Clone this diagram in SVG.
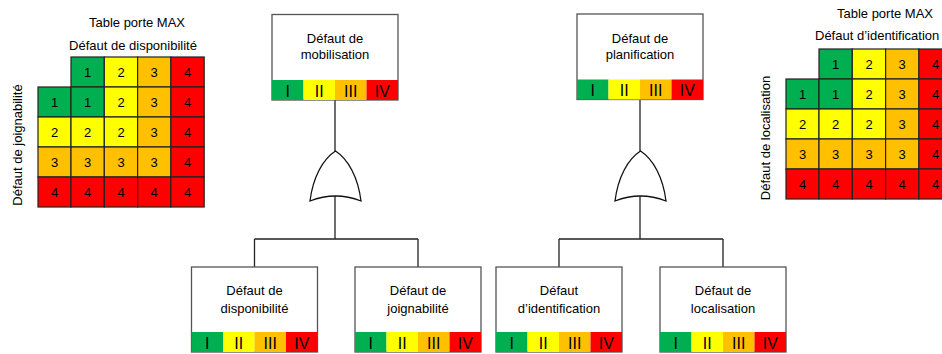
<svg xmlns="http://www.w3.org/2000/svg" width="942" height="354" viewBox="0 0 942 354">
<style>
text{font-family:"Liberation Sans",Arial,sans-serif;fill:#000}
.t{font-size:13px;text-anchor:middle}
.n{font-size:13px;text-anchor:middle}
.b{font-size:16px;text-anchor:middle}
.g{fill:#00B050}.y{fill:#FFFF00}.o{fill:#FFC000}.r{fill:#FF0000}
.cell rect{stroke:#222;stroke-width:1.2}
.box{fill:#fff;stroke:#555;stroke-width:1.3}
.band rect{stroke:#333;stroke-width:1}
.con{fill:none;stroke:#222;stroke-width:1.3}
.gate{fill:#fff;stroke:#111;stroke-width:1.3}
</style>
<defs>
<g id="band">
<rect class="g" x="0" y="0" width="31.5" height="20"/>
<rect class="y" x="31.5" y="0" width="31.5" height="20"/>
<rect class="o" x="63" y="0" width="31.5" height="20"/>
<rect class="r" x="94.5" y="0" width="31.5" height="20"/>
<text class="b" x="15.75" y="16.5">I</text>
<text class="b" x="47.25" y="16.5">II</text>
<text class="b" x="78.75" y="16.5">III</text>
<text class="b" x="110.25" y="16.5">IV</text>
</g>
<g id="tbl" class="cell">
<rect class="g" x="33" y="0" width="33.3" height="30"/><text class="n" x="49.6" y="20">1</text>
<rect class="y" x="66.3" y="0" width="33.3" height="30"/><text class="n" x="83" y="20">2</text>
<rect class="o" x="99.6" y="0" width="33.3" height="30"/><text class="n" x="116.2" y="20">3</text>
<rect class="r" x="132.9" y="0" width="33.3" height="30"/><text class="n" x="149.5" y="20">4</text>

<rect class="g" x="0" y="30" width="33" height="30"/><text class="n" x="16.5" y="50">1</text>
<rect class="g" x="33" y="30" width="33.3" height="30"/><text class="n" x="49.6" y="50">1</text>
<rect class="y" x="66.3" y="30" width="33.3" height="30"/><text class="n" x="83" y="50">2</text>
<rect class="o" x="99.6" y="30" width="33.3" height="30"/><text class="n" x="116.2" y="50">3</text>
<rect class="r" x="132.9" y="30" width="33.3" height="30"/><text class="n" x="149.5" y="50">4</text>

<rect class="y" x="0" y="60" width="33" height="30"/><text class="n" x="16.5" y="80">2</text>
<rect class="y" x="33" y="60" width="33.3" height="30"/><text class="n" x="49.6" y="80">2</text>
<rect class="y" x="66.3" y="60" width="33.3" height="30"/><text class="n" x="83" y="80">2</text>
<rect class="o" x="99.6" y="60" width="33.3" height="30"/><text class="n" x="116.2" y="80">3</text>
<rect class="r" x="132.9" y="60" width="33.3" height="30"/><text class="n" x="149.5" y="80">4</text>

<rect class="o" x="0" y="90" width="33" height="30"/><text class="n" x="16.5" y="110">3</text>
<rect class="o" x="33" y="90" width="33.3" height="30"/><text class="n" x="49.6" y="110">3</text>
<rect class="o" x="66.3" y="90" width="33.3" height="30"/><text class="n" x="83" y="110">3</text>
<rect class="o" x="99.6" y="90" width="33.3" height="30"/><text class="n" x="116.2" y="110">3</text>
<rect class="r" x="132.9" y="90" width="33.3" height="30"/><text class="n" x="149.5" y="110">4</text>

<rect class="r" x="0" y="120" width="33" height="30"/><text class="n" x="16.5" y="140">4</text>
<rect class="r" x="33" y="120" width="33.3" height="30"/><text class="n" x="49.6" y="140">4</text>
<rect class="r" x="66.3" y="120" width="33.3" height="30"/><text class="n" x="83" y="140">4</text>
<rect class="r" x="99.6" y="120" width="33.3" height="30"/><text class="n" x="116.2" y="140">4</text>
<rect class="r" x="132.9" y="120" width="33.3" height="30"/><text class="n" x="149.5" y="140">4</text>
</g>
</defs>

<g id="table-left">
<text class="t" x="137" y="27">Table porte MAX</text>
<text class="t" x="133" y="50">Défaut de disponibilité</text>
<text class="t" transform="translate(21.5,145) rotate(-90)">Défaut de joignabilité</text>
<use href="#tbl" x="38" y="57"/>
</g>

<g id="table-right">
<text class="t" x="885" y="18">Table porte MAX</text>
<text style="font-size:13px" x="815" y="40">Défaut d’identification</text>
<text class="t" transform="translate(769.5,138) rotate(-90)">Défaut de localisation</text>
<use href="#tbl" x="786" y="49"/>
</g>

<g id="connectors">
<path class="con" d="M335,100V151M335,196V239M254.5,239H418M254.5,239V267M418,239V267"/>
<path class="con" d="M640,100V151M640,196V239M559,239H723M559,239V267M723,239V267"/>
</g>

<g id="gate-left">
<path class="gate" d="M310,201C313,177 323,159 335.5,151C348,159 358,177 361,201Q335.5,191 310,201Z"/>
</g>
<g id="gate-right">
<path class="gate" d="M615,201C618,177 628,159 640.5,151C653,159 663,177 666,201Q640.5,191 615,201Z"/>
</g>

<g id="node-mobilisation">
<rect class="box" x="272" y="14.5" width="126" height="85.5"/>
<text class="t" x="335" y="43">Défaut de</text>
<text class="t" x="335" y="59">mobilisation</text>
<use href="#band" x="272" y="80" class="band"/>
</g>

<g id="node-planification">
<rect class="box" x="577" y="14" width="126" height="85.5"/>
<text class="t" x="640" y="43">Défaut de</text>
<text class="t" x="640" y="59">planification</text>
<use href="#band" x="577" y="79.5" class="band"/>
</g>

<g id="node-disponibilite">
<rect class="box" x="191.5" y="267" width="126" height="85"/>
<text class="t" x="254.5" y="295">Défaut de</text>
<text class="t" x="254.5" y="313">disponibilité</text>
<use href="#band" x="191.5" y="332" class="band"/>
</g>

<g id="node-joignabilite">
<rect class="box" x="355" y="267" width="126" height="85"/>
<text class="t" x="418" y="295">Défaut de</text>
<text class="t" x="418" y="313">joignabilité</text>
<use href="#band" x="355" y="332" class="band"/>
</g>

<g id="node-identification">
<rect class="box" x="496" y="267" width="126" height="85"/>
<text class="t" x="559" y="295">Défaut</text>
<text class="t" x="559" y="313">d’identification</text>
<use href="#band" x="496" y="332" class="band"/>
</g>

<g id="node-localisation">
<rect class="box" x="660" y="267" width="126" height="85"/>
<text class="t" x="723" y="295">Défaut de</text>
<text class="t" x="723" y="313">localisation</text>
<use href="#band" x="660" y="332" class="band"/>
</g>
</svg>
